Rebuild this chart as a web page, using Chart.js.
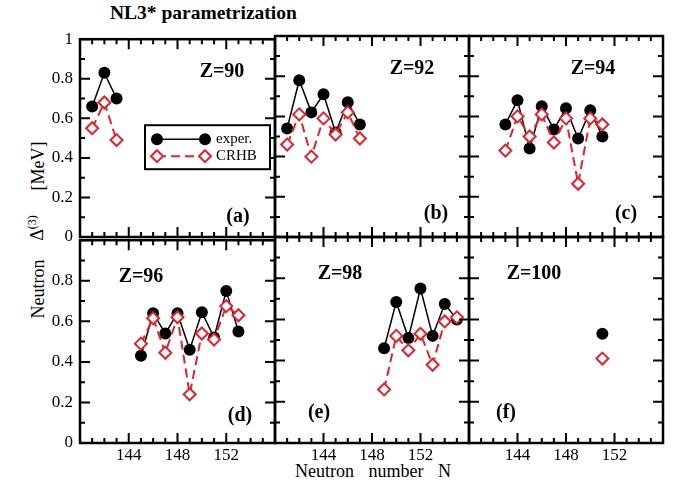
<!DOCTYPE html>
<html>
<head>
<meta charset="utf-8">
<title>NL3* parametrization</title>
<script src="https://cdn.jsdelivr.net/npm/chart.js@4.4.1/dist/chart.umd.min.js"></script>
<style>
  body { margin: 0; background: #fff; }
  #wrap { position: relative; width: 673px; height: 488px; overflow: hidden; font-family: "Liberation Serif", "Times New Roman", serif; color: #000; }
  #wrap canvas { position: absolute; }
  .main-title { position: absolute; left: 110px; top: 2px; font-weight: bold; font-size: 19.5px; white-space: nowrap; }
  /* vertical axis title, split in three pieces to keep its wide spacing */
  .y-part { position: absolute; transform: translate(-50%, -50%) rotate(-90deg); font-size: 18px; white-space: nowrap; }
  .y-part sup { font-size: 12px; }
  .x-title { position: absolute; left: 373px; top: 471px; transform: translate(-50%, -50%); font-size: 18px; white-space: nowrap; word-spacing: 10px; }
</style>
</head>
<body>
<div id="wrap">
  <div class="main-title">NL3* parametrization</div>
  <div class="y-part" style="left:38px; top:289px;">Neutron</div>
  <div class="y-part" style="left:36px; top:228px;">Δ<sup>(3)</sup></div>
  <div class="y-part" style="left:38px; top:166px;">[MeV]</div>
  <div class="x-title">Neutron number N</div>
</div>
<script>
// neutron numbers and odd-even staggering values per isotope chain
const n90 = [141, 142, 143];
const exper90 = [0.66, 0.83, 0.70];
const crhb90 = [0.55, 0.68, 0.49];

const n92 = [141, 142, 143, 144, 145, 146, 147];
const exper92 = [0.54, 0.78, 0.62, 0.71, 0.52, 0.67, 0.56];
const crhb92 = [0.46, 0.61, 0.40, 0.59, 0.51, 0.62, 0.49];

const n94 = [143, 144, 145, 146, 147, 148, 149, 150, 151];
const exper94 = [0.56, 0.68, 0.44, 0.65, 0.535, 0.64, 0.49, 0.63, 0.50];
const crhb94 = [0.43, 0.60, 0.50, 0.61, 0.47, 0.59, 0.265, 0.59, 0.56];

const n96 = [145, 146, 147, 148, 149, 150, 151, 152, 153];
const exper96 = [0.43, 0.64, 0.54, 0.64, 0.46, 0.645, 0.52, 0.75, 0.55];
const crhb96 = [0.49, 0.615, 0.445, 0.62, 0.24, 0.54, 0.51, 0.675, 0.63];

const n98 = [149, 150, 151, 152, 153, 154, 155];
const exper98 = [0.46, 0.685, 0.51, 0.75, 0.52, 0.675, 0.60];
const crhb98 = [0.26, 0.52, 0.45, 0.53, 0.38, 0.59, 0.61];

const n100 = [151];
const exper100 = [0.53];
const crhb100 = [0.41];

const xLabelTicks = [144, 148, 152];
const panelNames = ['Z=90', 'Z=92', 'Z=94', 'Z=96', 'Z=98', 'Z=100'];
const panelTags = ['(a)', '(b)', '(c)', '(d)', '(e)', '(f)'];

const RED = '#e8202a';
const FONT = '"Liberation Serif", "Times New Roman", serif';

// grid of panels (plot areas in page pixels)
const colLeft = [80, 275, 469];
const colWidth = [195, 194, 194];
const rowTop = [36, 237];
const rowHeight = [201, 206];
const PAD_L = 50, PAD_R = 12, PAD_T = 14, PAD_B = 30;

// where the Z= label and the (a)..(f) tag sit, relative to the plot area
const labelPos = [
    { zx: 142, zy: 33, tx: 158, ty: 178 },
    { zx: 137, zy: 33, tx: 161, ty: 178 },
    { zx: 124, zy: 33, tx: 157, ty: 178 },
    { zx: 61, zy: 37, tx: 160, ty: 176 },
    { zx: 65, zy: 37, tx: 44, ty: 176 },
    { zx: 65, zy: 37, tx: 37, ty: 176 }
];

// inward major/minor ticks on all four sides plus the heavy frame
const frameTicks = {
    id: 'frameTicks',
    afterDraw(chart) {
        const ctx = chart.ctx;
        const xs = chart.scales.x;
        const ys = chart.scales.y;
        const { left, right, top, bottom } = chart.chartArea;
        ctx.save();
        ctx.strokeStyle = '#000';
        ctx.lineWidth = 2;
        ctx.beginPath();
        for (let n = xs.min; n <= xs.max; n++) {
            const px = xs.getPixelForValue(n);
            const len = n % 4 === 0 ? 10 : 5;
            ctx.moveTo(px, bottom); ctx.lineTo(px, bottom - len);
            ctx.moveTo(px, top); ctx.lineTo(px, top + len);
        }
        for (let k = 0; k <= 10; k++) {
            const py = ys.getPixelForValue(k / 10);
            const len = k % 2 === 0 ? 10 : 5;
            ctx.moveTo(left, py); ctx.lineTo(left + len, py);
            ctx.moveTo(right, py); ctx.lineTo(right - len, py);
        }
        ctx.stroke();
        ctx.lineWidth = 2.5;
        ctx.strokeRect(left, top, right - left, bottom - top);
        ctx.restore();
    }
};

// Z= label and panel tag
const panelText = {
    id: 'panelText',
    afterDraw(chart, args, opts) {
        if (!opts.name) return;
        const ctx = chart.ctx;
        const { left, top } = chart.chartArea;
        ctx.save();
        ctx.fillStyle = '#000';
        ctx.font = 'bold 20px ' + FONT;
        ctx.textAlign = 'center';
        ctx.textBaseline = 'middle';
        ctx.fillText(opts.name, left + opts.zx, top + opts.zy);
        ctx.fillText(opts.tag, left + opts.tx, top + opts.ty);
        ctx.restore();
    }
};

// boxed legend with two-marker line samples (first panel only)
const boxLegend = {
    id: 'boxLegend',
    afterDraw(chart, args, opts) {
        if (!opts.show) return;
        const ctx = chart.ctx;
        const { left, top } = chart.chartArea;
        const bx = left + 65, by = top + 86, bw = 125, bh = 44;
        const rows = chart.data.datasets.slice().reverse();
        ctx.save();
        ctx.fillStyle = '#fff';
        ctx.fillRect(bx, by, bw, bh);
        ctx.strokeStyle = '#000';
        ctx.lineWidth = 2;
        ctx.strokeRect(bx, by, bw, bh);
        rows.forEach((ds, i) => {
            const y = by + 14 + i * 17;
            const x1 = bx + 12, x2 = bx + 60;
            ctx.strokeStyle = ds.borderColor;
            ctx.lineWidth = ds.borderWidth;
            ctx.setLineDash(ds.borderDash || []);
            ctx.beginPath();
            ctx.moveTo(x1, y); ctx.lineTo(x2, y);
            ctx.stroke();
            ctx.setLineDash([]);
            [x1, x2].forEach(x => {
                ctx.beginPath();
                if (ds.pointStyle === 'rectRot') {
                    const r = ds.pointRadius;
                    ctx.moveTo(x - r, y); ctx.lineTo(x, y - r);
                    ctx.lineTo(x + r, y); ctx.lineTo(x, y + r);
                    ctx.closePath();
                    ctx.fillStyle = ds.pointBackgroundColor;
                    ctx.fill();
                    ctx.lineWidth = ds.pointBorderWidth;
                    ctx.strokeStyle = ds.pointBorderColor;
                    ctx.stroke();
                } else {
                    ctx.arc(x, y, ds.pointRadius, 0, Math.PI * 2);
                    ctx.fillStyle = ds.pointBackgroundColor;
                    ctx.fill();
                }
            });
            ctx.fillStyle = '#000';
            ctx.font = '15px ' + FONT;
            ctx.textAlign = 'left';
            ctx.textBaseline = 'middle';
            ctx.fillText(ds.label, bx + 71, y);
        });
        ctx.restore();
    }
};

function makeDatasets(n, exper, crhb) {
    return [
        {
            label: 'CRHB',
            data: n.map((x, i) => ({ x: x, y: crhb[i] })),
            borderColor: RED,
            borderWidth: 2,
            borderDash: [9, 5],
            pointStyle: 'rectRot',
            pointRadius: 6,
            pointBorderWidth: 2,
            pointBackgroundColor: '#fff',
            pointBorderColor: RED,
            order: 0
        },
        {
            label: 'exper.',
            data: n.map((x, i) => ({ x: x, y: exper[i] })),
            borderColor: '#000',
            borderWidth: 1.5,
            pointStyle: 'circle',
            pointRadius: 6,
            pointBorderWidth: 0,
            pointBackgroundColor: '#000',
            pointBorderColor: '#000',
            order: 1
        }
    ];
}

const panels = [
    [n90, exper90, crhb90],
    [n92, exper92, crhb92],
    [n94, exper94, crhb94],
    [n96, exper96, crhb96],
    [n98, exper98, crhb98],
    [n100, exper100, crhb100]
];

const wrap = document.getElementById('wrap');

panels.forEach((p, idx) => {
    const row = Math.floor(idx / 3);
    const col = idx % 3;
    const w = colWidth[col] + PAD_L + PAD_R;
    const h = rowHeight[row] + PAD_T + PAD_B;

    const canvas = document.createElement('canvas');
    canvas.width = w;
    canvas.height = h;
    canvas.style.width = w + 'px';
    canvas.style.height = h + 'px';
    canvas.style.left = (colLeft[col] - PAD_L) + 'px';
    canvas.style.top = (rowTop[row] - PAD_T) + 'px';
    wrap.appendChild(canvas);

    new Chart(canvas.getContext('2d'), {
        type: 'line',
        data: { datasets: makeDatasets(p[0], p[1], p[2]) },
        plugins: [frameTicks, panelText, boxLegend],
        options: {
            responsive: false,
            animation: false,
            events: [],
            layout: { padding: { top: PAD_T, right: PAD_R, left: 0, bottom: 0 } },
            elements: { line: { tension: 0 } },
            plugins: {
                legend: { display: false },
                tooltip: { enabled: false },
                panelText: Object.assign({ name: panelNames[idx], tag: panelTags[idx] }, labelPos[idx]),
                boxLegend: { show: idx === 0 }
            },
            scales: {
                x: {
                    type: 'linear',
                    min: 140,
                    max: 156,
                    grid: { display: false, drawTicks: false },
                    border: { display: false },
                    ticks: {
                        display: row === 1,
                        stepSize: 4,
                        padding: 2,
                        autoSkip: false,
                        maxRotation: 0,
                        color: '#000',
                        font: { family: FONT, size: 17 },
                        callback: v => xLabelTicks.includes(v) ? String(v) : ''
                    },
                    afterFit: s => { s.height = PAD_B; }
                },
                y: {
                    min: 0,
                    max: 1,
                    grid: { display: false, drawTicks: false },
                    border: { display: false },
                    ticks: {
                        display: col === 0,
                        stepSize: 0.2,
                        padding: 7,
                        color: '#000',
                        font: { family: FONT, size: 17 },
                        callback: v => {
                            const r = Math.round(v * 10) / 10;
                            if (row === 1 && r === 1) return '';
                            return String(r);
                        }
                    },
                    afterFit: s => { s.width = PAD_L; }
                }
            }
        }
    });
});
</script>
</body>
</html>
